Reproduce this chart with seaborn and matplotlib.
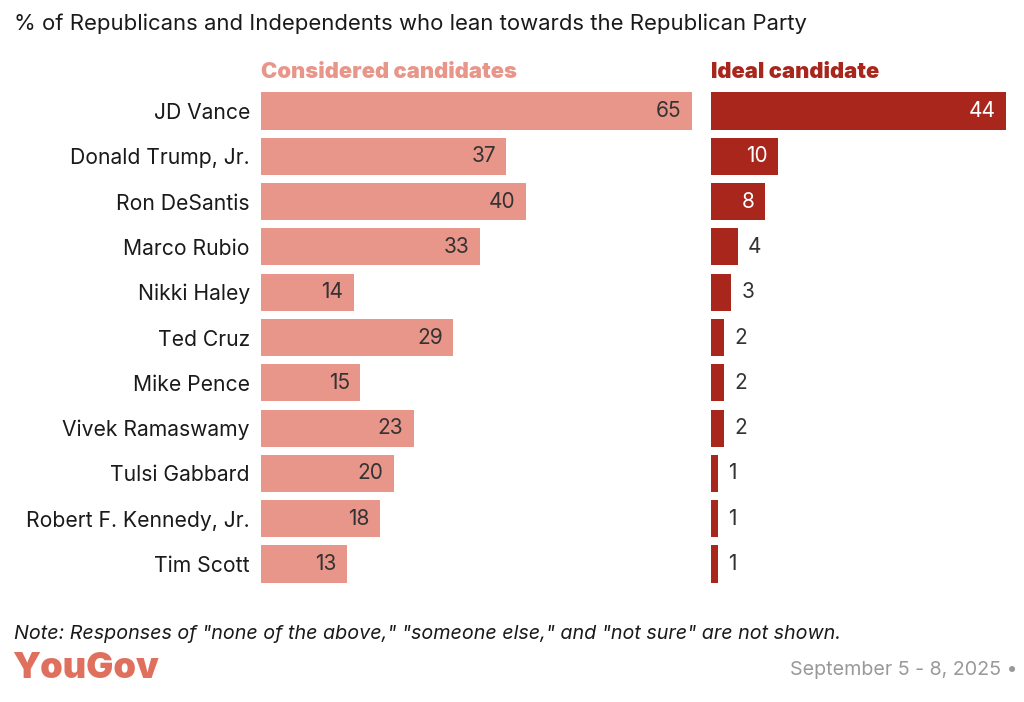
import matplotlib
matplotlib.use("Agg")
import matplotlib.pyplot as plt
import seaborn as sns
import pandas as pd

candidates = ["JD Vance", "Donald Trump, Jr.", "Ron DeSantis", "Marco Rubio", "Nikki Haley",
              "Ted Cruz", "Mike Pence", "Vivek Ramaswamy", "Tulsi Gabbard",
              "Robert F. Kennedy, Jr.", "Tim Scott"]
considered = [65, 37, 40, 33, 14, 29, 15, 23, 20, 18, 13]
ideal = [44, 10, 8, 4, 3, 2, 2, 2, 1, 1, 1]

title = "% of Republicans and Independents who lean towards the Republican Party"
left_title = "Considered candidates"
right_title = "Ideal candidate"
note = 'Note: Responses of "none of the above," "someone else," and "not sure" are not shown.'
date = "September 5 - 8, 2025 \u2022"

sns.set_theme(style="white")
plt.rcParams['font.family'] = ['Inter', 'DejaVu Sans']

C_LIGHT = "#E8958A"
C_DARK = "#A8261C"
TXT = "#333333"

df = pd.DataFrame({"name": candidates, "considered": considered, "ideal": ideal})

W, H = 1024, 702
fig = plt.figure(figsize=(W / 100, H / 100), dpi=100)

row_top = 111 - 0.5 * 45.3
row_bot = 564 + 0.5 * 45.3
bottom = 1 - row_bot / H
height = (row_bot - row_top) / H

axL = fig.add_axes([261 / W, bottom, 431 / W, height])
axR = fig.add_axes([711 / W, bottom, 295 / W, height])

sns.barplot(data=df, x="considered", y="name", ax=axL, color=C_LIGHT, width=0.82,
            saturation=1, edgecolor="none")
sns.barplot(data=df, x="ideal", y="name", ax=axR, color=C_DARK, width=0.82,
            saturation=1, edgecolor="none")

axL.set_xlim(0, 65)
axR.set_xlim(0, 44)
for ax in (axL, axR):
    ax.set_ylim(10.5, -0.5)
    ax.set_xlabel("")
    ax.set_ylabel("")
    ax.set_xticks([])
    for s in ax.spines.values():
        s.set_visible(False)
    ax.set_facecolor("none")

axL.tick_params(axis="y", length=0, pad=8, labelsize=15.2, labelcolor="#1a1a1a")
axR.set_yticks([])

for i, v in enumerate(considered):
    axL.annotate(str(v), xy=(v, i), xytext=(-7.5, 0), textcoords="offset points",
                 ha="right", va="center", fontsize=15, color=TXT)

for i, v in enumerate(ideal):
    if v >= 8:
        axR.annotate(str(v), xy=(v, i), xytext=(-7.5, 0), textcoords="offset points",
                     ha="right", va="center", fontsize=15, color="white")
    else:
        axR.annotate(str(v), xy=(v, i), xytext=(7.5, 0), textcoords="offset points",
                     ha="left", va="center", fontsize=15, color=TXT)

fig.text(14 / W, 1 - 24 / H, title, ha="left", va="center", fontsize=15.9, color="#1a1a1a")
fig.text(261 / W, 1 - 72 / H, left_title, ha="left", va="center", fontsize=15.8,
         fontweight=900, color=C_LIGHT)
fig.text(711 / W, 1 - 72 / H, right_title, ha="left", va="center", fontsize=15.8,
         fontweight=900, color=C_DARK)
fig.text(14 / W, 1 - 634 / H, note, ha="left", va="center", fontsize=14.2,
         style="italic", color="#1a1a1a")
fig.text(12 / W, 1 - 668 / H, "YouGov", ha="left", va="center", fontsize=26,
         fontweight=900, color="#E0705E")
fig.text(1018 / W, 1 - 670 / H, date, ha="right", va="center", fontsize=14.2, color="#999999")

fig.savefig("out.png", dpi=100, facecolor="white")
